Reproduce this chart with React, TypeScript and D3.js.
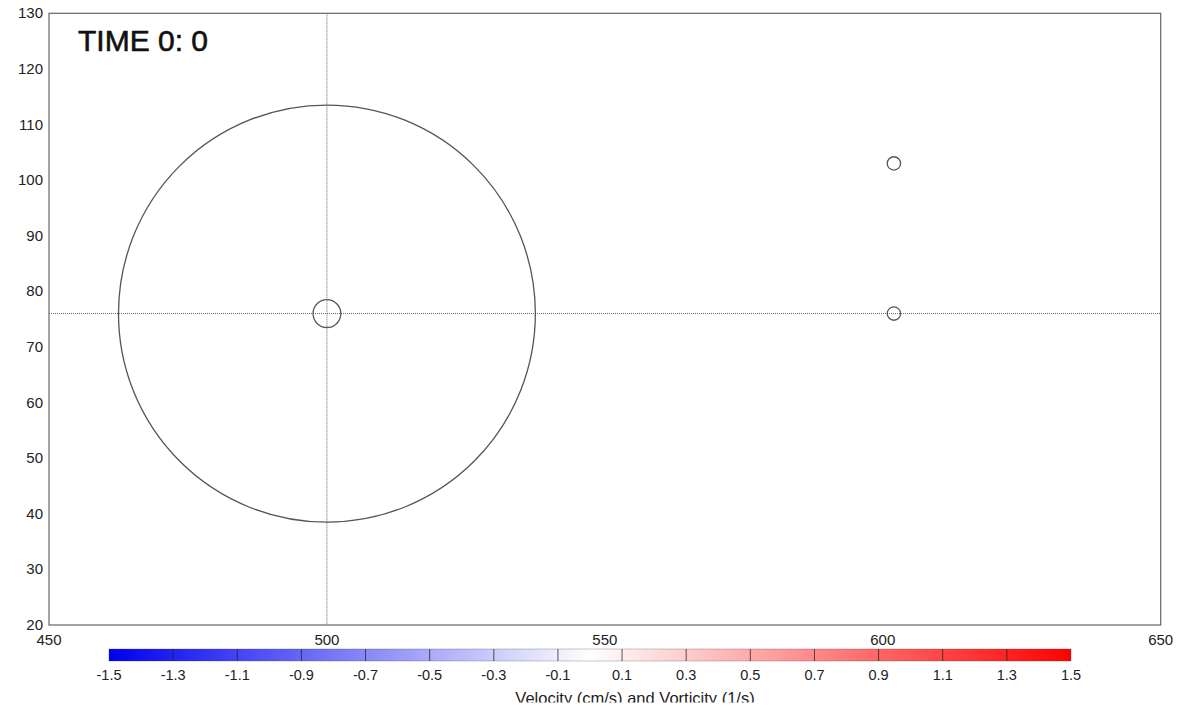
import React, { useEffect, useRef } from 'react';
import * as d3 from 'd3';

// axis ticks
const xTicks = [450, 500, 550, 600, 650];
const yTicks = [20, 30, 40, 50, 60, 70, 80, 90, 100, 110, 120, 130];
const barTicks = [-1.5, -1.3, -1.1, -0.9, -0.7, -0.5, -0.3, -0.1, 0.1, 0.3, 0.5, 0.7, 0.9, 1.1, 1.3, 1.5];

// circles: big ring, centre marker and two points
const circleX = [500, 500, 602, 602];
const circleY = [76, 76, 103, 76];
const circleR = [37.5, 2.5, 1.2, 1.2];

// crosshair
const crossX = 500;
const crossY = 76;

const timeLabel = 'TIME 0: 0';
const barTitle = 'Velocity (cm/s) and Vorticity (1/s)';

const W = 1188;
const H = 707;

const App: React.FC = () => {
  const svgRef = useRef<SVGSVGElement>(null);

  useEffect(() => {
    if (!svgRef.current) return;
    const svg = d3.select(svgRef.current);
    svg.selectAll('*').remove();

    const left = 49, right = 1160.7, top = 13.3, bottom = 625;
    const font = 'Liberation Sans, Arial, Helvetica, sans-serif';

    const x = d3.scaleLinear().domain([450, 650]).range([left, right]);
    const y = d3.scaleLinear().domain([20, 130]).range([bottom, top]);

    svg.append('rect').attr('width', W).attr('height', H).attr('fill', '#fff');

    // crosshair lines
    svg.append('line')
      .attr('x1', x(crossX)).attr('x2', x(crossX))
      .attr('y1', top).attr('y2', bottom)
      .attr('stroke', '#666').attr('stroke-width', 1)
      .attr('stroke-dasharray', '1,1');
    svg.append('line')
      .attr('x1', left).attr('x2', right)
      .attr('y1', y(crossY)).attr('y2', y(crossY))
      .attr('stroke', '#666').attr('stroke-width', 1)
      .attr('stroke-dasharray', '1,1');

    // circles
    const kx = x(1) - x(0);
    const ky = y(0) - y(1);
    svg.selectAll('ellipse.c')
      .data(circleX.map((cx, i) => ({ cx, cy: circleY[i], r: circleR[i] })))
      .enter()
      .append('ellipse')
      .attr('cx', d => x(d.cx))
      .attr('cy', d => y(d.cy))
      .attr('rx', d => d.r * kx)
      .attr('ry', d => d.r * ky)
      .attr('fill', 'none')
      .attr('stroke', '#555')
      .attr('stroke-width', 1.3);

    // frame
    svg.append('rect')
      .attr('x', left).attr('y', top)
      .attr('width', right - left).attr('height', bottom - top)
      .attr('fill', 'none').attr('stroke', '#666').attr('stroke-width', 1.2);

    // y labels
    svg.selectAll('text.yt')
      .data(yTicks)
      .enter()
      .append('text')
      .attr('x', left - 6)
      .attr('y', d => y(d) + 5)
      .attr('text-anchor', 'end')
      .attr('font-family', font)
      .attr('font-size', 15)
      .attr('fill', '#222')
      .text(d => d);

    // x labels
    svg.selectAll('text.xt')
      .data(xTicks)
      .enter()
      .append('text')
      .attr('x', d => x(d))
      .attr('y', 645)
      .attr('text-anchor', 'middle')
      .attr('font-family', font)
      .attr('font-size', 15)
      .attr('fill', '#222')
      .text(d => d);

    // time label
    svg.append('text')
      .attr('x', 78).attr('y', 51)
      .attr('font-family', font)
      .attr('font-size', 30)
      .attr('fill', '#111')
      .attr('stroke', '#111')
      .attr('stroke-width', 0.6)
      .text(timeLabel);

    // colorbar
    const cb = d3.scaleLinear().domain([-1.5, 1.5]).range([109, 1071]);
    const color = d3.scaleLinear<string>()
      .domain([-1.5, 0, 1.5])
      .range(['#0000f0', '#ffffff', '#ff0000']);
    const defs = svg.append('defs');
    const grad = defs.append('linearGradient').attr('id', 'cbgrad');
    d3.range(0, 31).forEach(i => {
      const v = -1.5 + i * 0.1;
      grad.append('stop')
        .attr('offset', `${(i / 30) * 100}%`)
        .attr('stop-color', color(v));
    });
    const barTop = 649, barH = 12;
    svg.append('rect')
      .attr('x', cb(-1.5)).attr('y', barTop)
      .attr('width', cb(1.5) - cb(-1.5)).attr('height', barH)
      .attr('fill', 'url(#cbgrad)')
      .attr('stroke', 'rgba(60,60,80,0.35)').attr('stroke-width', 0.8);
    svg.selectAll('line.div')
      .data(barTicks.slice(1, -1))
      .enter()
      .append('line')
      .attr('x1', d => cb(d)).attr('x2', d => cb(d))
      .attr('y1', barTop).attr('y2', barTop + barH)
      .attr('stroke', 'rgba(40,30,40,0.75)').attr('stroke-width', 1);

    svg.selectAll('text.cbt')
      .data(barTicks)
      .enter()
      .append('text')
      .attr('x', d => cb(d))
      .attr('y', 680)
      .attr('text-anchor', 'middle')
      .attr('font-family', font)
      .attr('font-size', 14.5)
      .attr('fill', '#222')
      .text(d => d.toFixed(1));

    svg.append('text')
      .attr('x', 635).attr('y', 704)
      .attr('text-anchor', 'middle')
      .attr('font-family', font)
      .attr('font-size', 16.5)
      .attr('fill', '#222')
      .text(barTitle);

    // bottom strip cuts the title
    svg.append('rect')
      .attr('x', 0).attr('y', 702.5)
      .attr('width', W).attr('height', 5)
      .attr('fill', '#fff');
  }, []);

  return (
    <svg
      ref={svgRef}
      width={W}
      height={H}
      style={{ position: 'absolute', left: 0, top: 0, display: 'block' }}
    />
  );
};

export default App;
